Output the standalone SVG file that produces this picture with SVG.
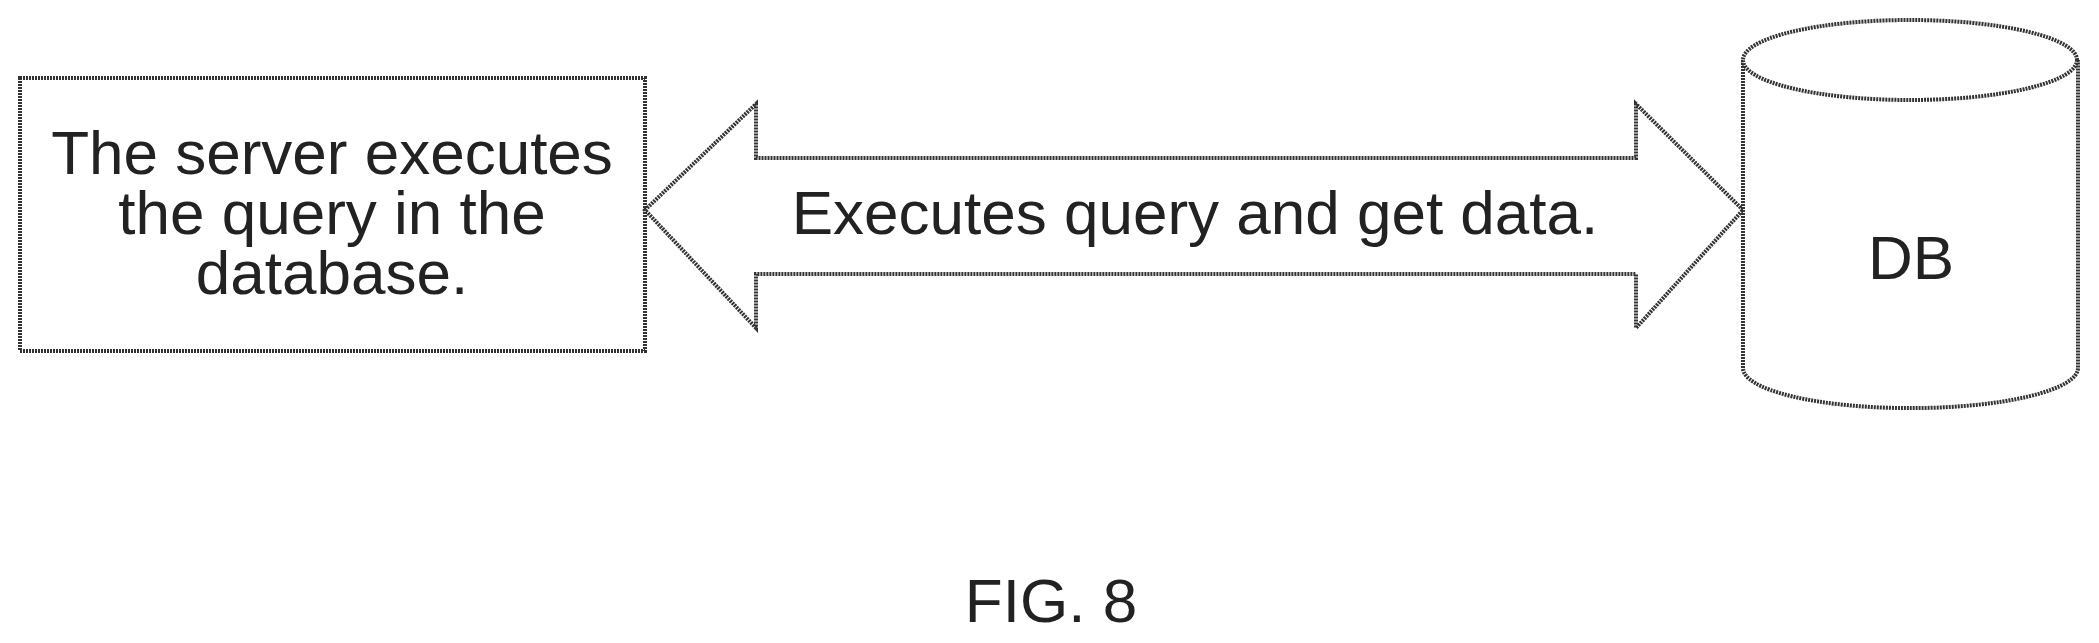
<svg xmlns="http://www.w3.org/2000/svg" width="2099" height="643" viewBox="0 0 2099 643">
<style>
.s{fill:#fff;stroke:#333;stroke-width:4;stroke-dasharray:2 1}
text{font-family:"Liberation Sans",Arial,sans-serif;font-size:62px;fill:#222;text-anchor:middle}
</style>
<rect width="2099" height="643" fill="#fff"/>
<g id="server">
<rect class="s" x="20" y="78" width="625" height="273"/>
<text x="332" y="174">The server executes</text>
<text x="332" y="234">the query in the</text>
<text x="332" y="294">database.</text>
</g>
<g id="connectors">
<path class="s" d="M645,210 L756,104 L756,158 L1636,158 L1636,104 L1743,210 L1636,328 L1636,274 L756,274 L756,328 Z"/>
<text x="1195" y="234">Executes query and get data.</text>
</g>
<g id="db">
<path class="s" d="M1743,60 L1743,368 A167,40 0 0 0 2078,368 L2078,60"/>
<ellipse class="s" cx="1910" cy="60" rx="167" ry="40"/>
<text x="1911" y="279">DB</text>
</g>
<text x="1051" y="622">FIG. 8</text>
</svg>
